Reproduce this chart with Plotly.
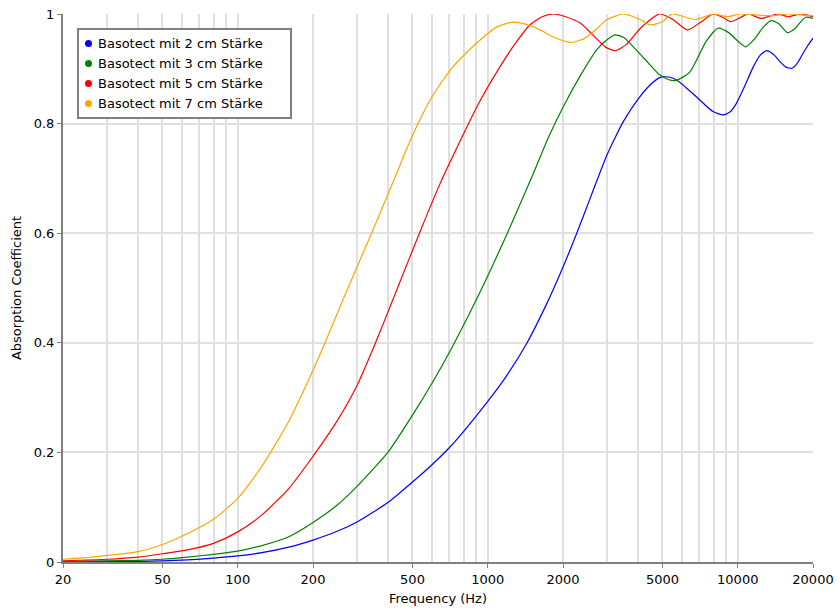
import plotly.graph_objects as go

# ---------------- data ----------------
series_names = ["Basotect mit 2 cm Stärke", "Basotect mit 3 cm Stärke",
                "Basotect mit 5 cm Stärke", "Basotect mit 7 cm Stärke"]
series_colors = ["#0000ff", "#008000", "#ff0000", "#ffa500"]

freq_2cm = [20, 30, 40, 50, 63, 80, 100, 125, 160, 200, 250, 300, 400, 500, 600, 700, 800,
            1000, 1150, 1424, 1700, 1995, 2270, 2600, 2980, 3220, 3500, 4000, 4450, 4870,
            5300, 5680, 6200, 6830, 7400, 7970, 8730, 9300, 9880, 10700, 11550, 12300,
            13070, 14000, 14760, 15600, 16480, 17300, 18230, 19100, 20000]
alpha_2cm = [0.000, 0.001, 0.001, 0.002, 0.004, 0.007, 0.011, 0.017, 0.027, 0.040, 0.056,
             0.073, 0.109, 0.146, 0.178, 0.208, 0.238, 0.293, 0.330, 0.397, 0.466, 0.537,
             0.600, 0.670, 0.740, 0.773, 0.805, 0.845, 0.870, 0.884, 0.885, 0.880, 0.866,
             0.849, 0.834, 0.822, 0.816, 0.821, 0.837, 0.870, 0.904, 0.925, 0.933, 0.925,
             0.913, 0.903, 0.901, 0.910, 0.928, 0.943, 0.956]

freq_3cm = [20, 30, 40, 50, 63, 80, 100, 125, 160, 200, 250, 300, 400, 500, 600, 707, 800,
            903, 1000, 1193, 1525, 1750, 2000, 2350, 2730, 3000, 3220, 3500, 3930, 4400,
            4870, 5300, 5680, 6400, 7000, 7470, 8330, 9200, 10200, 10770, 11700, 12600,
            13600, 14600, 15800, 16800, 17800, 18700, 20000]
alpha_3cm = [0.001, 0.002, 0.003, 0.005, 0.009, 0.014, 0.020, 0.030, 0.046, 0.072, 0.104,
             0.138, 0.201, 0.268, 0.327, 0.385, 0.432, 0.480, 0.522, 0.598, 0.710, 0.775,
             0.830, 0.888, 0.935, 0.953, 0.962, 0.957, 0.934, 0.910, 0.889, 0.880, 0.879,
             0.893, 0.925, 0.950, 0.974, 0.966, 0.947, 0.940, 0.955, 0.975, 0.988, 0.982,
             0.966, 0.972, 0.985, 0.994, 0.992]

freq_5cm = [20, 30, 40, 50, 63, 80, 100, 125, 160, 200, 251, 300, 352, 390, 440, 533, 644,
            760, 923, 1120, 1306, 1473, 1650, 1830, 2050, 2350, 2630, 2950, 3240, 3600,
            4100, 4870, 5500, 6300, 7100, 7970, 8700, 9370, 10200, 11000, 12400, 14440,
            15900, 17850, 20000]
alpha_5cm = [0.002, 0.005, 0.009, 0.015, 0.022, 0.034, 0.055, 0.086, 0.134, 0.193, 0.259,
             0.322, 0.395, 0.445, 0.505, 0.600, 0.690, 0.760, 0.838, 0.904, 0.950, 0.980,
             0.995, 1.000, 0.995, 0.983, 0.962, 0.940, 0.933, 0.945, 0.975, 1.000, 0.990,
             0.971, 0.985, 1.000, 0.994, 0.986, 0.993, 1.000, 0.992, 1.000, 0.995, 1.000,
             0.995]

freq_7cm = [20, 25, 30, 40, 50, 63, 80, 100, 125, 160, 200, 221, 270, 343, 424, 470, 520,
            575, 620, 726, 903, 1093, 1265, 1424, 1620, 1850, 2167, 2450, 2730, 2980, 3500,
            4100, 4470, 5000, 5470, 6750, 8000, 9070, 10200, 12000, 14000, 16000, 18000,
            20000]
alpha_7cm = [0.005, 0.008, 0.012, 0.019, 0.032, 0.052, 0.078, 0.116, 0.175, 0.257, 0.350,
             0.395, 0.490, 0.600, 0.700, 0.750, 0.795, 0.835, 0.860, 0.904, 0.947, 0.977,
             0.985, 0.981, 0.971, 0.957, 0.948, 0.956, 0.973, 0.989, 1.000, 0.989, 0.980,
             0.986, 1.000, 0.990, 1.000, 0.995, 1.000, 0.998, 0.997, 1.000, 0.998, 0.997]

x_tick_vals = [20, 50, 100, 200, 500, 1000, 2000, 5000, 10000, 20000]
x_tick_text = ["20", "50", "100", "200", "500", "1000", "2000", "5000", "10000", "20000"]
x_grid_vals = [m * d for d in (10, 100, 1000, 10000) for m in range(1, 10)
               if 20 <= m * d <= 20000]
y_tick_vals = [0, 0.2, 0.4, 0.6, 0.8, 1]
y_tick_text = ["0", "0.2", "0.4", "0.6", "0.8", "1"]

# ---------------- figure ----------------
FONT = "DejaVu Sans, Verdana, sans-serif"
W, H = 840, 612
ML, MR, MT, MB = 63, 27, 14, 50
PW, PH = W - ML - MR, H - MT - MB


def px_to_paper_x(px):
    return (px - ML) / PW


def px_to_paper_y(py):
    return (H - MB - py) / PH


fig = go.Figure()

all_x = [freq_2cm, freq_3cm, freq_5cm, freq_7cm]
all_y = [alpha_2cm, alpha_3cm, alpha_5cm, alpha_7cm]

for name, color, xs, ys in zip(series_names, series_colors, all_x, all_y):
    fig.add_trace(go.Scatter(
        x=xs, y=ys, mode="lines", name=name, showlegend=False,
        line=dict(color=color, width=1.2, shape="spline", smoothing=0.6),
        hoverinfo="x+y+name"))

# legend box drawn in the original style (dot + label)
shapes = [dict(type="rect", xref="paper", yref="paper", layer="above",
               x0=px_to_paper_x(78), x1=px_to_paper_x(291),
               y0=px_to_paper_y(118), y1=px_to_paper_y(29),
               line=dict(color="#808080", width=2), fillcolor="white")]
annotations = []
for i, (name, color) in enumerate(zip(series_names, series_colors)):
    row_y = 43.5 + 20 * i
    shapes.append(dict(type="circle", xref="paper", yref="paper", layer="above",
                       xsizemode="pixel", ysizemode="pixel",
                       xanchor=px_to_paper_x(88.5), yanchor=px_to_paper_y(row_y),
                       x0=-3.5, x1=3.5, y0=-3.5, y1=3.5,
                       fillcolor=color, line=dict(color=color, width=0)))
    annotations.append(dict(xref="paper", yref="paper", showarrow=False,
                            x=px_to_paper_x(96), y=px_to_paper_y(row_y),
                            xanchor="left", yanchor="middle", text=name,
                            font=dict(family=FONT, size=13, color="#000000")))

fig.update_layout(
    width=W, height=H,
    margin=dict(l=ML, r=MR, t=MT, b=MB, autoexpand=False),
    paper_bgcolor="white", plot_bgcolor="white",
    font=dict(family=FONT, size=13, color="#000000"),
    showlegend=False,
    shapes=shapes,
    annotations=annotations,
    xaxis=dict(
        type="log", range=[1.30103, 4.30103], automargin=False,
        tickmode="array", tickvals=x_tick_vals, ticktext=x_tick_text,
        showgrid=True, gridcolor="#e0e0e0", gridwidth=1.5,
        minor=dict(tickmode="array", tickvals=x_grid_vals, showgrid=True,
                   gridcolor="#e0e0e0", gridwidth=1.5, ticks=""),
        showline=True, linecolor="#808080", linewidth=2,
        ticks="outside", ticklen=4, tickcolor="#808080", tickwidth=1,
        zeroline=False,
        tickfont=dict(family=FONT, size=13, color="#000000"),
        title=dict(text="Frequency (Hz)", standoff=8,
                   font=dict(family=FONT, size=13, color="#000000")),
    ),
    yaxis=dict(
        range=[0, 1], automargin=False,
        tickmode="array", tickvals=y_tick_vals, ticktext=y_tick_text,
        showgrid=True, gridcolor="#e0e0e0", gridwidth=1.5,
        showline=True, linecolor="#808080", linewidth=2,
        ticks="outside", ticklen=4, tickcolor="#808080", tickwidth=1,
        zeroline=False,
        tickfont=dict(family=FONT, size=13, color="#000000"),
        title=dict(text="Absorption Coefficient", standoff=9,
                   font=dict(family=FONT, size=13, color="#000000")),
    ),
)

fig.write_html("out.html")
